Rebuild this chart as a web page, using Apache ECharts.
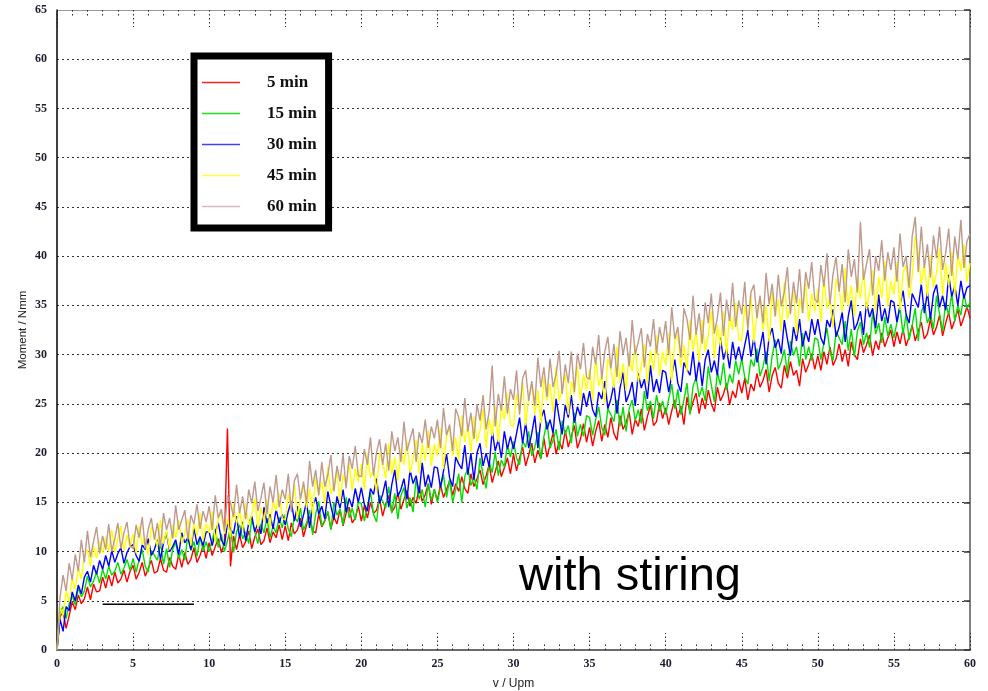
<!DOCTYPE html>
<html>
<head>
<meta charset="utf-8">
<script src="https://cdn.jsdelivr.net/npm/echarts@6/dist/echarts.min.js"></script>
<style>
html,body{margin:0;padding:0;background:#fff;}
#chart{width:988px;height:691px;}
</style>
</head>
<body>
<div id="chart"></div>
<script>
// Sampling grid (v / Upm): one sample every 0.2 Upm from 0 to 60
const xStep = 0.2;
const sampleCount = 301;

const seriesNames = ['5 min', '15 min', '30 min', '45 min', '60 min'];

const m5 = [
  0, 3.4, 3.9, 2.2, 3.5, 4.9, 4.1, 5.6, 4.7, 5.2, 6.4, 5.1, 6.7, 5.9, 6.0, 7.4, 6.3, 7.6, 6.5, 7.9, 6.8, 7.2, 8.1, 6.9, 8.0,
  8.6, 7.2, 7.9, 8.9, 7.5, 8.3, 9.1, 7.8, 8.0, 9.3, 8.1, 7.9, 9.4, 8.5, 8.2, 9.7, 8.4, 9.9, 8.7, 9.2, 10.4, 8.9, 9.6, 10.6, 9.3,
  10.9, 9.6, 10.5, 11.3, 9.9, 10.8, 22.5, 8.5, 11.6, 10.2, 11.7, 10.4, 11.0, 12.1, 10.3, 11.5, 12.3, 10.7, 11.1, 12.4, 10.9, 12.0, 11.4, 12.7, 11.2,
  12.6, 11.1, 12.9, 11.8, 12.2, 13.4, 11.5, 12.7, 13.6, 12.1, 11.9, 13.8, 12.5, 13.1, 14.0, 12.3, 13.5, 12.8, 14.3, 12.6, 13.9, 14.5, 12.9, 13.4, 14.6,
  13.1, 14.7, 13.4, 15.0, 13.9, 14.2, 15.4, 13.6, 14.8, 15.7, 14.0, 14.5, 16.0, 14.3, 15.3, 16.2, 14.6, 15.5, 14.9, 16.6, 15.1, 15.8, 16.9, 14.8, 16.3,
  15.2, 16.8, 15.5, 16.3, 17.2, 15.7, 16.9, 16.1, 17.6, 16.4, 15.9, 17.9, 16.6, 17.4, 18.3, 16.8, 17.7, 18.8, 17.0, 18.1, 19.2, 17.6, 18.5, 19.5, 17.9,
  19.9, 18.2, 19.5, 20.6, 18.7, 19.8, 21.0, 19.0, 20.3, 19.4, 21.5, 19.6, 20.8, 22.0, 19.9, 21.2, 20.4, 22.3, 20.6, 21.7, 22.8, 20.5, 21.4, 23.0, 21.1,
  22.6, 20.7, 22.2, 23.3, 21.2, 22.9, 21.6, 23.6, 22.0, 21.3, 23.8, 22.4, 23.1, 24.2, 21.9, 23.4, 22.7, 24.5, 22.3, 23.7, 24.9, 22.8, 23.2, 25.1, 23.5,
  24.6, 22.9, 24.3, 25.4, 23.6, 24.8, 22.9, 25.7, 24.1, 25.2, 26.1, 24.0, 25.6, 24.5, 26.4, 25.0, 24.2, 26.7, 25.3, 26.0, 27.1, 24.9, 26.3, 25.6, 27.4,
  26.1, 27.6, 25.4, 27.0, 26.3, 28.1, 26.7, 27.4, 28.5, 26.2, 27.9, 28.7, 27.1, 26.6, 28.9, 27.6, 29.3, 27.9, 28.4, 26.8, 29.6, 28.2, 29.0, 30.1, 28.5,
  29.9, 28.4, 30.3, 29.0, 30.8, 28.9, 29.6, 31.1, 29.3, 30.5, 28.8, 31.3, 30.0, 29.5, 31.6, 30.2, 31.0, 32.0, 29.9, 31.4, 30.5, 32.2, 30.8, 31.7, 32.5,
  30.8, 32.3, 31.1, 32.6, 30.9, 31.8, 33.0, 31.4, 32.4, 33.3, 31.6, 32.1, 33.6, 32.0, 32.8, 34.0, 31.9, 33.2, 34.3, 32.6, 33.5, 34.6, 32.9, 33.8, 34.9,
  33.7
];

const m15 = [
  0, 3.8, 4.4, 3.2, 4.7, 5.5, 4.6, 6.3, 5.4, 6.0, 7.5, 6.4, 7.0, 7.9, 6.8, 8.2, 7.2, 8.5, 7.6, 8.0, 8.9, 7.7, 8.3, 9.2, 8.1,
  9.3, 7.9, 9.2, 10.2, 8.5, 7.9, 10.1, 9.6, 9.1, 10.9, 8.7, 10.3, 8.4, 10.2, 10.9, 9.3, 10.2, 9.1, 11.7, 10.1, 11.0, 9.5, 11.5, 10.1, 11.0,
  10.0, 11.2, 12.3, 10.4, 11.8, 10.0, 11.1, 12.4, 9.9, 12.0, 12.7, 11.3, 12.0, 10.8, 13.3, 12.0, 10.8, 12.8, 11.9, 13.4, 11.4, 12.6, 11.9, 13.5, 12.4,
  13.8, 12.3, 11.5, 13.6, 13.0, 14.4, 12.2, 12.9, 14.2, 11.7, 13.8, 15.1, 12.6, 13.2, 14.1, 12.2, 15.0, 13.7, 14.3, 12.7, 15.5, 13.4, 14.4, 13.2, 15.0,
  14.9, 13.1, 14.6, 16.0, 13.8, 13.0, 15.7, 15.1, 14.4, 16.6, 13.9, 15.9, 13.3, 15.7, 16.5, 14.4, 15.5, 14.0, 17.4, 15.3, 16.3, 14.5, 16.9, 15.2, 16.3,
  15.0, 16.5, 17.8, 15.5, 17.3, 15.0, 16.3, 17.9, 15.0, 17.6, 18.5, 16.7, 17.6, 16.3, 19.5, 17.8, 16.4, 19.1, 18.0, 20.1, 17.7, 19.3, 18.6, 20.8, 19.6,
  21.2, 19.5, 18.8, 21.2, 20.6, 22.2, 19.7, 20.6, 22.1, 19.4, 21.7, 23.2, 20.5, 21.3, 22.4, 20.3, 23.3, 21.9, 22.8, 21.0, 24.1, 21.7, 22.9, 21.7, 23.8,
  23.6, 21.8, 23.4, 24.7, 22.6, 21.8, 24.5, 23.9, 23.2, 25.4, 22.7, 24.7, 22.2, 24.5, 25.4, 23.3, 24.4, 23.0, 26.3, 24.3, 25.3, 23.5, 25.9, 24.2, 25.3,
  23.9, 25.5, 27.0, 24.5, 26.5, 23.9, 25.4, 27.1, 23.9, 26.8, 27.7, 25.7, 26.7, 25.3, 28.8, 26.9, 25.2, 28.2, 26.9, 29.2, 26.4, 28.0, 27.1, 29.4, 28.0,
  29.6, 27.7, 27.0, 29.5, 28.8, 30.6, 27.8, 28.8, 30.3, 27.3, 29.9, 31.5, 28.5, 29.3, 30.5, 28.1, 31.4, 29.9, 30.8, 28.8, 32.2, 29.5, 30.8, 29.4, 31.7,
  31.5, 29.5, 31.2, 32.7, 30.3, 29.4, 32.4, 31.7, 31.0, 33.4, 30.4, 32.6, 29.8, 32.4, 33.3, 31.0, 32.2, 30.7, 34.3, 32.1, 33.2, 31.2, 33.8, 31.9, 33.1,
  31.7, 33.3, 34.8, 32.1, 34.1, 31.5, 33.0, 34.7, 31.4, 34.3, 35.2, 33.2, 34.1, 32.6, 36.0, 34.1, 32.4, 35.3, 34.0, 36.2, 33.4, 35.0, 34.0, 36.2, 34.7,
  35.3
];

const m30 = [
  0, 3.1, 1.9, 4.4, 4.0, 5.9, 5.0, 6.6, 5.7, 7.4, 8.0, 6.9, 8.6, 7.7, 9.1, 8.2, 9.6, 8.5, 10.1, 8.9, 9.8, 10.4, 8.8, 9.9, 10.5,
  10.7, 9.6, 9.0, 10.7, 10.2, 11.3, 9.6, 10.2, 11.2, 9.2, 10.9, 11.9, 10.0, 10.5, 11.2, 9.7, 11.9, 10.9, 11.4, 10.2, 12.4, 10.7, 11.5, 10.6, 12.0,
  12.0, 10.6, 11.9, 12.9, 11.2, 10.6, 12.8, 12.3, 11.8, 13.6, 11.4, 13.0, 11.1, 12.9, 13.6, 12.0, 12.9, 11.8, 14.5, 12.9, 13.8, 12.3, 14.3, 12.9, 13.8,
  12.7, 14.1, 15.1, 13.1, 14.6, 12.5, 13.7, 15.1, 12.4, 14.6, 15.5, 13.8, 14.6, 13.3, 16.1, 14.6, 13.3, 15.6, 14.4, 16.3, 14.0, 15.4, 14.5, 16.4, 15.0,
  16.5, 14.8, 14.1, 16.4, 15.8, 17.4, 14.9, 15.8, 17.2, 14.5, 16.8, 18.3, 15.6, 16.3, 17.4, 15.3, 18.3, 16.9, 17.7, 15.9, 19.0, 16.6, 17.8, 16.5, 18.6,
  18.5, 16.5, 18.2, 19.9, 17.5, 16.6, 19.6, 18.9, 18.4, 20.8, 17.8, 20.0, 17.3, 20.0, 21.0, 18.7, 20.0, 18.6, 22.3, 20.2, 21.4, 19.5, 22.2, 20.4, 21.7,
  20.4, 22.0, 23.6, 21.0, 23.1, 20.5, 22.0, 23.8, 20.5, 23.5, 24.4, 22.4, 23.4, 22.0, 25.5, 23.6, 21.9, 24.9, 23.6, 25.9, 23.1, 24.7, 23.8, 26.1, 24.7,
  26.3, 24.4, 23.7, 26.2, 25.5, 27.3, 24.5, 25.5, 27.0, 24.0, 26.6, 28.2, 25.2, 26.0, 27.2, 24.8, 28.1, 26.6, 27.5, 25.5, 28.9, 26.2, 27.5, 26.1, 28.4,
  28.2, 26.2, 27.9, 29.5, 27.1, 26.2, 29.2, 28.5, 27.9, 30.3, 27.3, 29.5, 26.8, 29.5, 30.5, 28.2, 29.4, 27.9, 31.7, 29.5, 30.6, 28.6, 31.3, 29.5, 30.8,
  29.4, 31.0, 32.5, 29.8, 31.8, 29.2, 30.7, 32.3, 29.0, 31.8, 32.7, 30.7, 31.6, 30.1, 33.5, 31.6, 29.9, 32.8, 31.4, 33.6, 30.8, 32.4, 31.3, 33.6, 32.0,
  33.6, 31.7, 31.0, 33.5, 32.8, 34.6, 31.8, 32.8, 34.3, 31.3, 33.9, 35.5, 32.5, 33.2, 34.4, 32.0, 35.3, 33.8, 34.7, 32.7, 36.1, 33.4, 34.7, 33.2, 35.5,
  35.3, 33.3, 35.0, 36.5, 34.1, 33.2, 36.2, 35.5, 34.8, 37.2, 34.2, 36.4, 33.6, 36.2, 37.1, 34.8, 36.0, 34.5, 38.1, 35.9, 37.0, 35.0, 37.5, 35.7, 36.8,
  37.0
];

const m45 = [
  0, 4.3, 3.5, 6.0, 4.9, 7.3, 6.1, 8.4, 7.2, 9.6, 10.2, 8.5, 10.6, 9.3, 11.1, 9.8, 11.5, 10.0, 12.2, 9.9, 11.3, 12.6, 10.1, 11.7, 10.4,
  11.8, 9.8, 12.6, 10.7, 11.4, 9.6, 12.5, 11.9, 10.5, 13.2, 10.8, 12.1, 10.2, 12.7, 11.4, 13.2, 10.8, 11.8, 13.3, 10.6, 12.8, 11.6, 13.9, 11.1, 12.8,
  11.9, 14.1, 10.9, 13.4, 14.0, 11.8, 13.3, 11.5, 14.9, 12.8, 14.2, 12.1, 14.9, 12.7, 13.7, 15.4, 12.3, 14.5, 13.0, 15.3, 12.4, 15.2, 14.1, 15.9, 13.4,
  13.2, 15.8, 14.4, 16.9, 13.3, 15.5, 16.7, 14.4, 16.4, 13.8, 17.6, 15.7, 17.1, 14.8, 18.6, 15.8, 16.9, 18.1, 14.9, 17.8, 16.8, 19.0, 16.2, 18.4, 17.1,
  18.9, 16.2, 20.0, 17.5, 18.4, 16.0, 20.0, 19.1, 17.4, 21.0, 17.8, 19.6, 17.2, 20.4, 18.8, 21.2, 18.0, 19.4, 21.4, 17.9, 20.9, 19.2, 22.3, 18.7, 20.9,
  19.7, 22.6, 18.4, 21.8, 22.6, 19.7, 21.6, 19.2, 23.8, 21.1, 22.9, 20.1, 23.7, 21.1, 22.3, 24.5, 20.5, 23.5, 21.7, 24.8, 21.1, 24.8, 23.4, 26.1, 22.9,
  22.7, 26.0, 24.2, 27.3, 22.8, 25.6, 27.1, 23.9, 26.4, 23.0, 27.7, 25.3, 27.0, 24.1, 28.8, 25.3, 26.6, 28.0, 23.9, 27.3, 26.0, 28.8, 25.3, 28.0, 26.4,
  28.5, 25.3, 29.8, 26.8, 27.9, 25.0, 29.6, 28.6, 26.6, 30.8, 27.1, 29.1, 26.3, 30.1, 28.3, 31.0, 27.2, 28.9, 31.1, 27.0, 30.4, 28.4, 32.0, 27.8, 30.3,
  28.9, 32.2, 27.3, 31.3, 32.1, 28.7, 31.0, 28.3, 33.5, 30.4, 32.5, 29.2, 33.5, 30.3, 31.9, 34.4, 29.6, 33.0, 30.8, 34.4, 29.9, 34.1, 32.5, 35.3, 31.6,
  31.4, 35.0, 32.9, 36.1, 31.2, 34.2, 35.8, 32.4, 35.0, 31.3, 36.4, 33.8, 35.6, 32.3, 37.4, 33.6, 35.1, 36.5, 32.0, 35.7, 34.3, 37.3, 33.4, 36.2, 34.4,
  36.7, 33.3, 38.0, 34.7, 35.8, 32.7, 37.7, 36.6, 34.3, 38.8, 34.8, 37.0, 33.8, 37.9, 35.7, 38.7, 34.6, 36.3, 38.6, 34.2, 37.9, 35.7, 39.5, 34.9, 37.5,
  36.1, 39.4, 34.5, 38.3, 39.1, 35.7, 38.0, 42.0, 40.3, 37.1, 39.2, 35.9, 40.1, 36.8, 38.3, 40.8, 36.0, 39.3, 37.0, 40.5, 36.0, 40.2, 38.5, 41.2, 37.4,
  39.3
];

const m60 = [
  0, 5.4, 7.6, 6.0, 8.8, 7.1, 9.7, 8.0, 11.2, 8.9, 12.1, 9.4, 11.0, 12.5, 9.8, 11.6, 10.2, 12.8, 10.0, 11.3, 12.9, 10.3, 11.9, 13.0, 10.6,
  10.3, 12.7, 11.4, 13.5, 10.3, 12.3, 13.4, 11.2, 12.9, 10.5, 13.9, 12.2, 13.4, 11.3, 14.7, 12.2, 13.2, 14.2, 11.2, 13.7, 12.8, 14.8, 12.3, 14.1, 13.0,
  14.6, 12.2, 15.7, 13.4, 14.3, 12.1, 15.7, 15.0, 13.5, 16.8, 13.9, 15.6, 13.3, 16.3, 14.9, 17.1, 14.1, 15.4, 17.0, 13.8, 16.6, 15.0, 17.8, 14.5, 16.3,
  15.3, 17.9, 14.0, 17.2, 17.9, 15.3, 17.1, 14.9, 19.2, 16.6, 18.3, 15.7, 19.1, 16.6, 17.8, 19.8, 16.1, 18.7, 17.1, 19.9, 16.4, 19.7, 18.4, 20.7, 17.7,
  17.6, 20.4, 18.8, 21.6, 17.7, 20.1, 21.4, 18.8, 21.0, 18.2, 22.2, 20.2, 21.6, 19.1, 23.2, 20.2, 21.4, 22.5, 19.1, 22.1, 21.0, 23.4, 20.5, 22.7, 21.5,
  23.4, 20.5, 24.6, 21.8, 22.9, 20.2, 24.5, 23.6, 21.7, 25.6, 22.2, 24.1, 21.4, 25.0, 23.3, 25.9, 22.4, 24.2, 28.9, 22.7, 26.0, 24.3, 27.8, 24.0, 26.5,
  25.4, 28.4, 23.9, 27.6, 28.4, 25.3, 27.3, 24.8, 29.7, 26.7, 28.7, 25.7, 29.6, 26.7, 28.0, 30.4, 26.0, 29.0, 27.1, 30.3, 26.2, 30.1, 28.5, 31.2, 27.7,
  27.5, 30.8, 29.0, 32.0, 27.5, 30.3, 31.8, 28.6, 31.1, 27.7, 32.4, 30.0, 31.7, 28.8, 33.5, 30.0, 31.3, 32.7, 28.7, 32.1, 30.8, 33.6, 30.1, 32.8, 31.2,
  33.4, 30.0, 34.8, 31.6, 32.8, 29.7, 34.7, 33.6, 31.5, 36.0, 32.0, 34.2, 31.1, 35.3, 33.2, 36.2, 32.1, 33.8, 36.3, 31.9, 35.6, 33.4, 37.3, 32.8, 35.5,
  34.1, 37.4, 32.5, 36.3, 37.1, 33.7, 36.0, 33.2, 38.3, 35.1, 37.2, 33.9, 38.1, 34.9, 36.4, 38.9, 34.1, 37.4, 35.2, 38.7, 34.2, 38.4, 36.7, 39.4, 35.6,
  35.3, 39.1, 36.9, 40.3, 35.1, 38.2, 39.9, 36.4, 39.2, 35.3, 40.7, 37.9, 39.7, 36.3, 43.5, 37.6, 39.2, 40.7, 36.0, 40.0, 38.5, 41.6, 37.5, 40.4, 38.6,
  40.9, 37.4, 42.3, 38.9, 40.0, 36.8, 42.0, 44.0, 38.4, 43.0, 38.8, 41.2, 37.8, 42.1, 39.8, 43.0, 38.6, 40.3, 42.8, 38.0, 42.0, 39.7, 43.7, 38.8, 41.5,
  42.3
];

// short black reference line drawn inside the plot
const refLineX = [3, 9];
const refLineY = [4.65, 4.65];

const xTicksMin = 0, xTicksMax = 60, xTickStep = 5;
const yTicksMin = 0, yTicksMax = 65, yTickStep = 5;

const seriesValues = [m5, m15, m30, m45, m60];
const seriesColors = ['#ff0000', '#00e000', '#0000ff', '#ffff00', '#bf998d'];
const legendColors = ['#ff2020', '#20e020', '#4040ff', '#ffff40', '#d8bcbc'];

const rpm = [];
for (let i = 0; i < sampleCount; i++) rpm.push(+(i * xStep).toFixed(1));

const chart = echarts.init(document.getElementById('chart'), null, {renderer: 'canvas'});

const labelFont = {fontFamily: 'Liberation Serif', fontWeight: 'bold', fontSize: 12, color: '#1c1c30'};
const tickDots = {color: '#222', width: 1, type: [1.5, 2.5]};

const series = seriesValues.map((vals, k) => ({
  name: seriesNames[k],
  type: 'line',
  data: rpm.map((x, i) => [x, vals[i]]),
  symbol: 'none',
  showSymbol: false,
  lineStyle: {color: seriesColors[k], width: 1.4},
  itemStyle: {color: legendColors[k]},
  z: 2 + k,
  animation: false,
  silent: true
}));
series.push({
  name: 'ref',
  type: 'line',
  data: refLineX.map((x, i) => [x, refLineY[i]]),
  symbol: 'none',
  lineStyle: {color: '#000', width: 1.5},
  z: 10,
  animation: false,
  silent: true
});

chart.setOption({
  backgroundColor: '#fff',
  animation: false,
  grid: {left: 57, right: 18, top: 10, bottom: 41, containLabel: false, outerBoundsMode: 'none'},
  legend: {
    data: seriesNames.map((n, k) => ({name: n, icon: 'rect', itemStyle: {color: legendColors[k]}})),
    orient: 'vertical',
    left: 194,
    top: 56,
    backgroundColor: '#fff',
    borderColor: '#000',
    borderWidth: 7,
    borderRadius: 0,
    padding: [18, 12, 13, 8],
    itemWidth: 38,
    itemHeight: 1.5,
    itemGap: 14,
    selectedMode: false,
    textStyle: {fontFamily: 'Liberation Serif', fontWeight: 'bold', fontSize: 17, color: '#111', padding: [0, 0, 0, 22]}
  },
  xAxis: [
    {
      type: 'value', min: xTicksMin, max: xTicksMax, interval: xTickStep, position: 'bottom',
      axisLine: {show: true, onZero: false, lineStyle: {color: '#6b6b6b', width: 2}},
      axisTick: {show: true, inside: true, length: 17, lineStyle: tickDots},
      minorTick: {show: true, splitNumber: 5, length: 6, lineStyle: tickDots},
      splitLine: {show: false},
      axisLabel: Object.assign({margin: 8}, labelFont),
      name: 'v / Upm', nameLocation: 'middle', nameGap: 28, nameMoveOverlap: false,
      nameTextStyle: {fontFamily: 'Liberation Sans', fontSize: 12, color: '#222', verticalAlign: 'top'}
    },
    {
      type: 'value', min: xTicksMin, max: xTicksMax, interval: xTickStep, position: 'top',
      axisLine: {show: true, onZero: false, lineStyle: {color: '#9a9a9a', width: 1}},
      axisTick: {show: true, inside: true, length: 17, lineStyle: tickDots},
      minorTick: {show: true, splitNumber: 5, length: 6, lineStyle: tickDots},
      splitLine: {show: false},
      axisLabel: {show: false}
    }
  ],
  yAxis: [
    {
      type: 'value', min: yTicksMin, max: yTicksMax, interval: yTickStep, position: 'left',
      axisLine: {show: true, onZero: false, lineStyle: {color: '#000', width: 1.5}},
      axisTick: {show: false},
      splitLine: {show: true, lineStyle: {color: '#333', width: 1, type: [2, 3]}},
      axisLabel: Object.assign({margin: 10}, labelFont),
      name: 'Moment / Nmm', nameLocation: 'middle', nameGap: 28, nameRotate: 90, nameMoveOverlap: false,
      nameTextStyle: {fontFamily: 'Liberation Sans', fontSize: 11.5, color: '#222'}
    },
    {
      type: 'value', min: yTicksMin, max: yTicksMax, interval: yTickStep, position: 'right',
      axisLine: {show: true, onZero: false, lineStyle: {color: '#555', width: 1.5}},
      axisTick: {show: true, inside: true, length: 6, lineStyle: {color: '#333', width: 1.5}},
      splitLine: {show: false},
      axisLabel: {show: false}
    }
  ],
  graphic: [
    {
      type: 'text', left: 519, top: 554, z: 20,
      style: {text: 'with stiring', font: '47px "Liberation Sans"', fill: '#000'}
    }
  ],
  series: series
});
</script>
</body>
</html>
